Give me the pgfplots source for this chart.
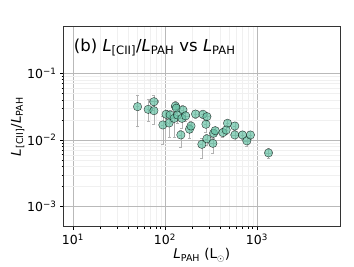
\documentclass[border=0pt]{standalone}
\usepackage{pgfplots}
\pgfplotsset{compat=1.18}
\usepackage{pgfplotstable}
\usepackage{fontspec}
\setmainfont{DejaVu Sans}
\definecolor{ptfill}{HTML}{66C2A5}
\pgfplotstableread{
x y eyp eym exp exm
50.4 0.0316 0.015 0.0156 0 0
65.8 0.0288 0.012 0.010 0 0
75.9 0.0375 0.010 0.008 8 8
75.9 0.0275 0.006 0.010 0 0
95 0.0168 0.006 0.0083 0 0
103 0.0243 0.004 0.006 0 0
111 0.018 0.004 0.007 0 0
114 0.0237 0.004 0.005 0 0
126 0.0211 0.004 0.010 0 0
130 0.0323 0.006 0.006 12 12
133 0.0300 0.005 0.005 0 0
137 0.0237 0.005 0.006 0 0
153 0.0211 0.005 0.006 0 0
157 0.0282 0.005 0.005 0 0
168 0.023 0.004 0.004 15 15
149 0.0119 0.002 0.004 0 0
185 0.0145 0.003 0.004 0 0
192 0.0162 0.003 0.003 0 0
215 0.0245 0.003 0.003 0 0
259 0.0243 0.003 0.003 0 0
286 0.0224 0.003 0.003 25 25
279 0.0172 0.003 0.004 0 0
252 0.0086 0.002 0.0033 0 0
286 0.0104 0.002 0.002 0 0
332 0.0089 0.002 0.0025 30 30
338 0.0126 0.002 0.002 30 30
352 0.0138 0.002 0.002 0 0
427 0.0129 0.002 0.002 0 0
479 0.0178 0.002 0.002 0 0
463 0.0141 0.002 0.002 0 0
575 0.0162 0.002 0.002 0 0
575 0.0119 0.002 0.002 50 50
697 0.0119 0.0015 0.0015 0 0
777 0.0097 0.0015 0.0015 60 60
850 0.0119 0.0015 0.0015 0 0
1337 0.0064 0.001 0.001 100 100
}\datatab
\begin{document}
\begin{tikzpicture}
\path[use as bounding box] (-63.5pt,-39.3pt) rectangle (290.5pt,226.7pt);
\begin{axis}[
  at={(0,0)}, anchor=south west,
  scale only axis, width=276.5pt, height=200pt,
  xmode=log, ymode=log,
  xmin=7.9, xmax=8000, ymin=5e-4, ymax=0.5,
  xtick={10,100,1000}, xticklabels={10\textsuperscript{1},10\textsuperscript{2},10\textsuperscript{3}},
  ytick={0.001,0.01,0.1}, yticklabels={10\textsuperscript{−3},10\textsuperscript{−2},10\textsuperscript{−1}},
  tick label style={font=\fontsize{12.5}{14}\selectfont},
  tick align=outside, tick pos=left,
  major tick length=3.5pt, minor tick length=2pt,
  every tick/.style={black, line width=0.6pt},
  grid=both,
  major grid style={gray!55, line width=0.6pt},
  minor grid style={gray!12, line width=0.4pt},
  axis line style={black!80, line width=0.6pt},
  xlabel={\textit{L}\textsubscript{PAH} (L\textsubscript{$\odot$})},
  ylabel={\textit{L}\textsubscript{[CII]}/\textit{L}\textsubscript{PAH}},
  label style={font=\fontsize{13.5}{15}\selectfont},
  xlabel style={yshift=3pt},
  ylabel style={yshift=-4pt},
]
\addplot[only marks, mark=*, mark size=4.2pt,
  mark options={fill=ptfill, fill opacity=0.7, draw=black, draw opacity=0.75, line width=0.4pt},
  error bars/.cd, y dir=both, y explicit, x dir=both, x explicit,
  error bar style={gray!60, line width=0.45pt},
  error mark options={rotate=90, mark size=1.5pt, gray!60}]
  table[x=x, y=y, y error plus=eyp, y error minus=eym, x error plus=exp, x error minus=exm] {\datatab};
\node[anchor=west, font=\fontsize{16.5}{18}\selectfont] at (rel axis cs:0.025,0.895)
  {(b) \textit{L}\textsubscript{[CII]}/\textit{L}\textsubscript{PAH} vs \textit{L}\textsubscript{PAH}};
\end{axis}
\end{tikzpicture}
\end{document}
